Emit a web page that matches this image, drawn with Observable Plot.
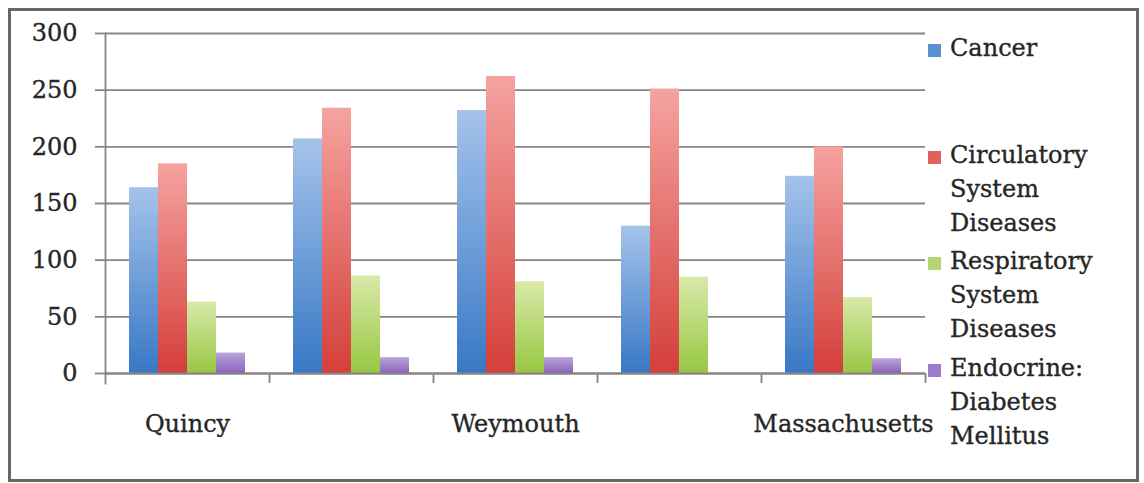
<!DOCTYPE html>
<html>
<head>
<meta charset="utf-8">
<script src="https://cdn.jsdelivr.net/npm/d3@7"></script>
<script src="https://cdn.jsdelivr.net/npm/@observablehq/plot@0.6"></script>
<style>
  html, body { margin: 0; padding: 0; background: #fff; }
  #wrap { position: relative; width: 1144px; height: 483px; overflow: hidden; background: #fff; }
  #wrap svg { position: absolute; left: 0; top: 0; }
  #border { position: absolute; left: 8px; top: 8px; width: 1125px; height: 468px; border: 3px solid #6a6665; pointer-events: none; }
  #legend { position: absolute; left: 928px; top: 31px; font-family: "DejaVu Serif", serif; font-size: 24px; line-height: 34px; color: #262626; -webkit-text-stroke: 0.35px #262626; }
  .item { position: relative; height: 106.7px; }
  .sw { position: absolute; left: 0; top: 13px; width: 13px; height: 13px; }
  .tx { position: absolute; left: 22px; top: 0; width: 180px; }
</style>
</head>
<body>
<div id="wrap">
  <div id="legend"></div>
  <div id="border"></div>
</div>
<script>
// ---- data ----
const places = ["Quincy", "Place 2", "Weymouth", "Place 4", "Massachusetts"];
const placeLabels = ["Quincy", "", "Weymouth", "", "Massachusetts"];
const series = ["Cancer", "Circulatory System Diseases", "Respiratory System Diseases", "Endocrine: Diabetes Mellitus"];
const cancer = [164, 207, 232, 130, 174];
const circulatory = [185, 234, 262, 251, 200];
const respiratory = [63, 86, 81, 85, 67];
const diabetes = [18, 14, 14, null, 13];
const yTicks = [0, 50, 100, 150, 200, 250, 300];

// colors (gradient top / bottom) and swatch colors
const gradTop = ["#a5c3ea", "#f5a3a0", "#d9e9a9", "#bba4da"];
const gradBottom = ["#3878c6", "#d43f3a", "#97c842", "#8b63bd"];
const swatch = ["#5a8fd3", "#e0605c", "#b3d672", "#9a7ccb"];

const valuesBySeries = [cancer, circulatory, respiratory, diabetes];
const data = [];
places.forEach((p, i) => {
  series.forEach((s, j) => {
    const v = valuesBySeries[j][i];
    if (v != null) data.push({place: p, series: s, value: v});
  });
});
const labelOf = new Map(places.map((p, i) => [p, placeLabels[i]]));
const gradIds = series.map((s, j) => `grad${j}`);

const axisColor = "#8a8381";
const textColor = "#262626";
const font = "DejaVu Serif, serif";

const W = 1144, H = 483, mL = 105, mR = 219;
const band = (W - mL - mR) / places.length;

const chart = Plot.plot({
  width: W,
  height: H,
  marginLeft: mL,
  marginRight: mR,
  marginTop: 33,
  marginBottom: 110,
  style: {fontFamily: font, fontSize: "24px", color: textColor, background: "transparent"},
  fx: {domain: places, padding: 0, label: null},
  x: {domain: series, paddingInner: 0, paddingOuter: 0.78, axis: null, label: null},
  y: {domain: [0, 300], label: null},
  color: {domain: series, range: gradIds.map(id => `url(#${id})`)},
  marks: [
    Plot.gridY(yTicks, {stroke: axisColor, strokeOpacity: 1, strokeWidth: 1.8}),
    Plot.barY(data, {fx: "place", x: "series", y: "value", fill: "series", inset: 0}),
    Plot.ruleY([0], {stroke: axisColor, strokeWidth: 1.8}),
    Plot.frame({anchor: "left", facetAnchor: "left", stroke: axisColor, strokeWidth: 1.8, insetBottom: -10}),
    Plot.axisY(yTicks, {tickSize: 10, tickPadding: 18, stroke: axisColor, strokeWidth: 1.8, fill: textColor, fontSize: 24, tickFormat: d => d}),
    Plot.axisFx({anchor: "bottom", tickSize: 10, tickFormat: () => "", stroke: axisColor, strokeWidth: 1.8, dx: band / 2, label: null}),
    Plot.axisFx({anchor: "bottom", tickSize: 0, tickPadding: 41, tickFormat: d => labelOf.get(d), fill: textColor, fontSize: 24, label: null})
  ]
});

// gradients
const svg = d3.select(chart);
const defs = svg.insert("defs", ":first-child");
series.forEach((s, j) => {
  const g = defs.append("linearGradient").attr("id", gradIds[j]).attr("x1", 0).attr("y1", 0).attr("x2", 0).attr("y2", 1);
  g.append("stop").attr("offset", "0%").attr("stop-color", gradTop[j]);
  g.append("stop").attr("offset", "100%").attr("stop-color", gradBottom[j]);
});
// slightly heavier text, like the reference
svg.selectAll("text").style("stroke", textColor).style("stroke-width", "0.35px").style("paint-order", "normal");

document.getElementById("wrap").insertBefore(chart, document.getElementById("legend"));

// legend
const legend = d3.select("#legend");
series.forEach((s, j) => {
  const it = legend.append("div").attr("class", "item");
  it.append("div").attr("class", "sw").style("background", swatch[j]);
  it.append("div").attr("class", "tx").text(s);
});
</script>
</body>
</html>
